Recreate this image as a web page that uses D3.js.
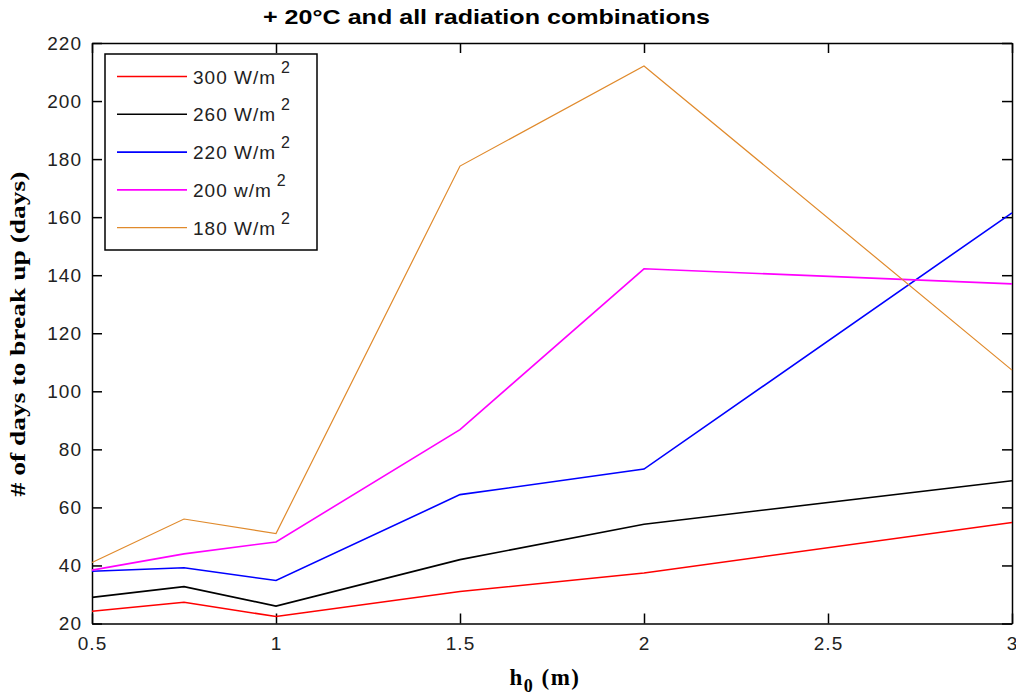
<!DOCTYPE html>
<html>
<head>
<meta charset="utf-8">
<script src="https://cdn.jsdelivr.net/npm/d3@7"></script>
<style>
  body { margin: 0; background: #fff; }
  text { font-family: Arial, "Liberation Sans", sans-serif; }
  .serif { font-family: "Times New Roman", "Liberation Serif", serif; font-weight: bold; }
</style>
</head>
<body>
<div id="app"></div>
<script>
// data
const thickness = [0.5, 0.75, 1, 1.5, 2, 3]
const labels = ['300 W/m', '260 W/m', '220 W/m', '200 w/m', '180 W/m']
const colors = ['#ff0000', '#000000', '#0000ff', '#ff00ff', '#e08a2c']
const w300 = [24.2, 27.3, 22.4, 31, 37.4, 54.8]
const w260 = [29, 32.7, 26, 42, 54.2, 69.2]
const w220 = [38, 39.2, 34.8, 64.4, 73.2, 161.5]
const w200 = [38.4, 44, 48.1, 86.8, 142.2, 137]
const w180 = [41, 56, 51, 177.6, 212.1, 107.3]
const series = [w300, w260, w220, w200, w180]
const xTicks = [0.5, 1, 1.5, 2, 2.5, 3]
const yTicks = [20, 40, 60, 80, 100, 120, 140, 160, 180, 200, 220]

const svg = d3.select('#app').append('svg').attr('width', 1016).attr('height', 700)

const mLeft = 92, mRight = 1012, mTop = 43, mBottom = 623.5
const x = d3.scaleLinear().domain([0.5, 3]).range([mLeft, mRight])
const y = d3.scaleLinear().domain([20, 220]).range([mBottom, mTop])

// axes, matlab style: ticks inside on all four sides
const tickLen = 10
svg.append('g').attr('transform', `translate(0,${mBottom})`)
  .call(d3.axisBottom(x).tickValues(xTicks).tickSizeInner(-tickLen).tickSizeOuter(0).tickPadding(13).tickFormat(d3.format('')))
svg.append('g').attr('transform', `translate(0,${mTop})`)
  .call(d3.axisTop(x).tickValues(xTicks).tickSizeInner(-tickLen).tickSizeOuter(0).tickFormat(''))
svg.append('g').attr('transform', `translate(${mLeft},0)`)
  .call(d3.axisLeft(y).tickValues(yTicks).tickSizeInner(-tickLen).tickSizeOuter(0).tickPadding(10))
svg.append('g').attr('transform', `translate(${mRight},0)`)
  .call(d3.axisRight(y).tickValues(yTicks).tickSizeInner(-tickLen).tickSizeOuter(0).tickFormat(''))

svg.selectAll('.domain').attr('stroke', '#000').attr('stroke-width', 1.5)
svg.selectAll('.tick line').attr('stroke', '#000').attr('stroke-width', 1.5)
svg.selectAll('.tick text').attr('font-size', 19).attr('letter-spacing', 1).attr('fill', '#222')

// lines
const line = d3.line().x((d, i) => x(thickness[i])).y(d => y(d))
svg.selectAll('path.series').data(series).enter().append('path')
  .attr('class', 'series')
  .attr('d', line)
  .attr('fill', 'none')
  .attr('stroke', (d, i) => colors[i])
  .attr('stroke-width', (d, i) => i === 4 ? 1.2 : 1.6)

// title
svg.append('text').attr('x', 263).attr('y', 24)
  .attr('font-size', 21).attr('font-weight', 'bold').attr('fill', '#000')
  .attr('textLength', 447).attr('lengthAdjust', 'spacingAndGlyphs')
  .text('+ 20°C and all radiation combinations')

// axis labels
const xl = svg.append('text').attr('class', 'serif').attr('x', 545).attr('y', 685)
  .attr('text-anchor', 'middle').attr('font-size', 23).attr('letter-spacing', 1.5)
xl.append('tspan').text('h')
xl.append('tspan').attr('dy', 7).attr('font-size', 18).text('0')
xl.append('tspan').attr('dy', -7).text('\u00a0(m)')

svg.append('text').attr('class', 'serif')
  .attr('transform', 'translate(25,334) rotate(-90)')
  .attr('text-anchor', 'middle').attr('font-size', 22)
  .attr('textLength', 325).attr('lengthAdjust', 'spacingAndGlyphs')
  .text('# of days to break up (days)')

// legend
const lg = svg.append('g')
lg.append('rect').attr('x', 105).attr('y', 54).attr('width', 212).attr('height', 196)
  .attr('fill', '#fff').attr('stroke', '#000').attr('stroke-width', 1.5)
const rows = lg.selectAll('g.row').data(labels).enter().append('g')
  .attr('class', 'row')
  .attr('transform', (d, i) => `translate(0,${76.5 + i * 37.8})`)
rows.append('line').attr('x1', 117).attr('x2', 187).attr('y1', 0).attr('y2', 0)
  .attr('stroke', (d, i) => colors[i]).attr('stroke-width', (d, i) => i === 4 ? 1.2 : 1.6)
const lt = rows.append('text').attr('x', 193).attr('y', 7).attr('font-size', 19).attr('letter-spacing', 1).attr('fill', '#222')
lt.append('tspan').text(d => d)
lt.append('tspan').attr('dx', 5).attr('dy', -11).attr('font-size', 16).text('2')
</script>
</body>
</html>
